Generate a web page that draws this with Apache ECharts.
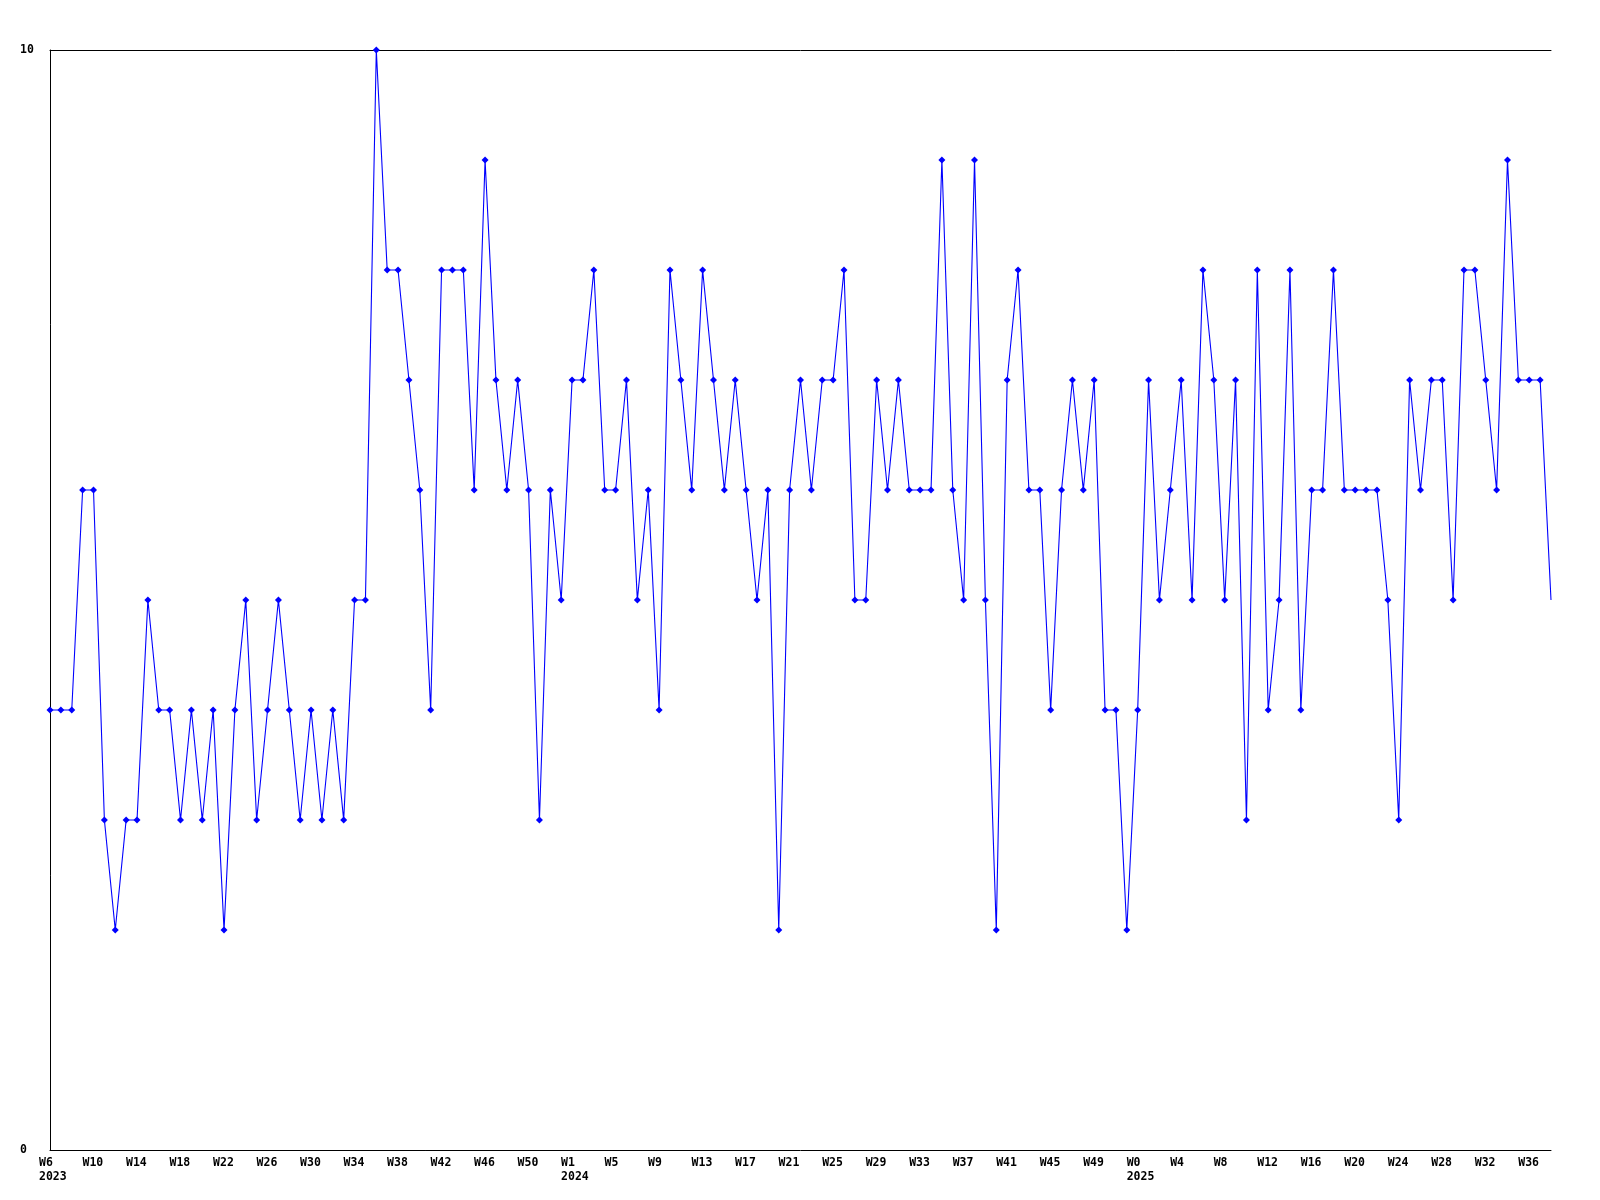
<!DOCTYPE html>
<html><head><meta charset="utf-8">
<script src="https://cdn.jsdelivr.net/npm/echarts@6/dist/echarts.min.js"></script>
<style>html,body{margin:0;padding:0;background:#fff}#c{width:1600px;height:1200px}</style>
</head><body><div id="c"></div>
<script>
// Week ranges per year (tick label sources)
const years = [2023, 2024, 2025];
const firstWeek = [6, 0, 0];
const lastWeek = [52, 52, 38];

// Weekly values
const values = [
  4,4,4,6,6,3,2,3,3,5,
  4,4,3,4,3,4,2,4,5,3,
  4,5,4,3,4,3,4,3,5,5,
  10,8,8,7,6,4,8,8,8,6,
  9,7,6,7,6,3,6,5,7,7,
  8,6,6,7,5,6,4,8,7,6,
  8,7,6,7,6,5,6,2,6,7,
  6,7,7,8,5,5,7,6,7,6,
  6,6,9,6,5,9,5,2,7,8,
  6,6,4,6,7,6,7,4,4,2,
  4,7,5,6,7,5,8,7,5,7,
  3,8,4,5,8,4,6,6,8,6,
  6,6,6,5,3,7,6,7,7,5,
  8,8,7,6,9,7,7,7,5
];
const yMin = 0, yMax = 10;

const categories = [];
years.forEach((y, k) => {
  for (let w = firstWeek[k]; w <= lastWeek[k]; w++) categories.push(y + '-W' + w);
});

const FONT = '"DejaVu Sans Mono", monospace';
const chart = echarts.init(document.getElementById('c'), null, {renderer: 'canvas'});
const seriesData = values.map((v, i) => i === values.length - 1 ? {value: v, symbol: 'none'} : v);

chart.setOption({
  animation: false,
  backgroundColor: '#ffffff',
  grid: [
    {left: 50, right: 49, top: 50, bottom: 50},
    {left: 39, right: 60, top: 50, bottom: 50}
  ],
  xAxis: [
    {
      gridIndex: 0, type: 'category', data: categories, boundaryGap: false, position: 'bottom',
      axisLine: {show: true, lineStyle: {color: '#000', width: 1}},
      axisTick: {show: false}, axisLabel: {show: false}, splitLine: {show: false}
    },
    {
      gridIndex: 1, type: 'category', data: categories, boundaryGap: false, position: 'bottom',
      axisLine: {show: false}, axisTick: {show: false}, splitLine: {show: false},
      axisLabel: {
        show: true, interval: 3, align: 'left', margin: 6,
        fontFamily: FONT, fontWeight: 'bold', fontSize: 11.5, lineHeight: 14, color: '#000',
        formatter: function (val, idx) {
          const parts = val.split('-');
          const y = parts[0], w = parts[1];
          const showYear = idx === 0 || categories[idx - 4].split('-')[0] !== y;
          return showYear ? w + '\n' + y : w;
        }
      }
    },
    {
      gridIndex: 0, type: 'category', data: categories, boundaryGap: false, position: 'top',
      axisLine: {show: true, lineStyle: {color: '#000', width: 1}},
      axisTick: {show: false}, axisLabel: {show: false}, splitLine: {show: false}
    }
  ],
  yAxis: [
    {
      gridIndex: 0, type: 'value', min: yMin, max: yMax, interval: yMax - yMin,
      axisLine: {show: true, lineStyle: {color: '#000', width: 1}},
      axisTick: {show: false}, splitLine: {show: false},
      axisLabel: {show: true, align: 'left', margin: 30, fontFamily: FONT, fontWeight: 'bold', fontSize: 11.5, color: '#000'}
    },
    {
      gridIndex: 1, type: 'value', min: yMin, max: yMax, show: false
    }
  ],
  series: [{
    type: 'line', xAxisIndex: 0, yAxisIndex: 0, data: seriesData,
    showSymbol: true, showAllSymbol: true, symbol: 'diamond', symbolSize: 7,
    lineStyle: {color: '#0000ff', width: 1.1},
    itemStyle: {color: '#0000ff'},
    emphasis: {disabled: true}
  }]
});
</script>
</body></html>
